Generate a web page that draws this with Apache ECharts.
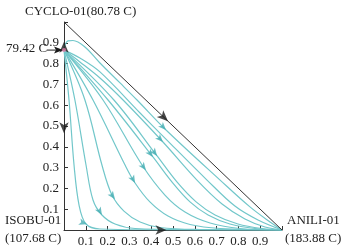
<!DOCTYPE html>
<html>
<head>
<meta charset="utf-8">
<script src="https://cdn.jsdelivr.net/npm/echarts@6/dist/echarts.min.js"></script>
<style>
html, body { margin: 0; padding: 0; background: #fff; }
#chart { width: 345px; height: 251px; }
</style>
</head>
<body>
<div id="chart"></div>
<script>
// residue curves, [x ANILI, y CYCLO]
var curve1 = [[0,0.865],[0.023,0.625],[0.046,0.3125],[0.069,0.12],[0.101,0.0288],[0.165,0.0048],[0.4,0.001],[1,0]];
var curve2 = [[0,0.865],[0.05,0.625],[0.101,0.3125],[0.133,0.144],[0.174,0.072],[0.234,0.0288],[0.326,0.0072],[0.6,0.001],[1,0]];
var curve3 = [[0,0.865],[0.096,0.625],[0.174,0.3125],[0.22,0.168],[0.275,0.091],[0.349,0.0385],[0.44,0.012],[0.624,0.0024],[1,0]];
var curve4 = [[0,0.865],[0.133,0.625],[0.28,0.3125],[0.326,0.226],[0.394,0.135],[0.477,0.067],[0.578,0.0264],[0.716,0.0072],[1,0]];
var curve5 = [[0,0.865],[0.179,0.625],[0.358,0.3125],[0.463,0.168],[0.555,0.0865],[0.67,0.0337],[0.807,0.0072],[1,0]];
var curve6 = [[0,0.865],[0.202,0.625],[0.408,0.351],[0.495,0.231],[0.578,0.135],[0.661,0.072],[0.761,0.0288],[0.876,0.0072],[1,0]];
var curve7 = [[0,0.865],[0.229,0.625],[0.427,0.356],[0.518,0.231],[0.606,0.135],[0.693,0.072],[0.798,0.0288],[0.908,0.0072],[1,0]];
var curve8 = [[0,0.865],[0.073,0.808],[0.165,0.731],[0.271,0.625],[0.454,0.423],[0.61,0.24],[0.725,0.125],[0.83,0.0529],[0.922,0.0144],[1,0]];
var curve9 = [[0,0.865],[0.073,0.827],[0.165,0.76],[0.349,0.5625],[0.463,0.442],[0.656,0.24],[0.784,0.115],[0.89,0.048],[1,0]];
var curve10 = [[0,0.865],[0.0046,0.889],[0.018,0.909],[0.041,0.911],[0.096,0.88],[0.165,0.803],[0.257,0.707],[0.335,0.625],[0.468,0.481],[0.716,0.24],[0.853,0.111],[0.945,0.0385],[1,0]];
var curves = [curve1, curve2, curve3, curve4, curve5, curve6, curve7, curve8, curve9, curve10];
// x where the little direction arrow sits on each curve (null = none)
var arrowAt = [0.105, 0.174, 0.234, 0.326, 0.376, 0.408, 0.427, 0.454, null, 0.468];

var edge = [[0, 1], [1, 0]];          // CYCLO - ANILI side
var azeo = [0, 0.865];                // 79.42 C azeotrope
// black arrows on the triangle edges: [x, y, direction dx, dy]
var edgeArrows = [[0, 0.905, 0, 1], [0, 0.465, 0, -1], [0.47, 0, 1, 0], [0.477, 0.523, 1, -1]];

var GL = 64, GR = 63, GT = 22, GB = 21;
var GW = 345 - GL - GR, GH = 251 - GT - GB;
var curveColor = '#72c7ca';
var font = '"Liberation Serif", "DejaVu Serif", serif';

function rot(dx, dy) {
  var ang = Math.atan2(dy * GH, dx * GW) * 180 / Math.PI;
  return ang - 90;
}

function pointAt(c, x) {
  for (var i = 0; i < c.length - 1; i++) {
    if (c[i][0] <= x && c[i + 1][0] >= x) {
      var dx = c[i + 1][0] - c[i][0], dy = c[i + 1][1] - c[i][1];
      var t = dx ? (x - c[i][0]) / dx : 0;
      return { p: [x, c[i][1] + t * dy], r: rot(dx, dy) };
    }
  }
  return { p: c[c.length - 1], r: 0 };
}

var series = [];
curves.forEach(function (c) {
  series.push({
    type: 'line',
    data: c,
    showSymbol: false,
    smooth: 0.35,
    lineStyle: { color: curveColor, width: 1.2 },
    silent: true,
    z: 2
  });
});

var curveArrows = [];
arrowAt.forEach(function (x, i) {
  if (x === null) return;
  var a = pointAt(curves[i], x);
  curveArrows.push({ value: a.p, symbolRotate: a.r });
});
series.push({
  type: 'scatter',
  data: curveArrows,
  symbol: 'arrow',
  symbolSize: [5, 8],
  itemStyle: { color: '#45aeb3' },
  silent: true,
  z: 4
});

series.push({
  type: 'line',
  data: edge,
  showSymbol: false,
  lineStyle: { color: '#333', width: 1 },
  silent: true,
  z: 3
});

series.push({
  type: 'scatter',
  data: edgeArrows.map(function (a) {
    return { value: [a[0], a[1]], symbolRotate: rot(a[2], a[3]) };
  }),
  symbol: 'arrow',
  symbolSize: [7, 11],
  itemStyle: { color: '#1a1a1a' },
  clip: false,
  silent: true,
  z: 5
});

series.push({
  type: 'scatter',
  data: [azeo],
  symbol: 'circle',
  symbolSize: 4,
  itemStyle: { color: '#e27aa8' },
  clip: false,
  silent: true,
  z: 6
});

var axisCommon = {
  type: 'value',
  min: 0,
  max: 1,
  interval: 0.1,
  axisLine: { show: true, lineStyle: { color: '#333', width: 1 } },
  axisTick: { show: true, inside: true, length: 4, lineStyle: { color: '#333' } },
  splitLine: { show: false },
  axisLabel: {
    color: '#222',
    fontSize: 13,
    fontFamily: font,
    margin: 5,
    formatter: function (v) { return (v > 0.001 && v < 0.999) ? v.toFixed(1) : ''; }
  }
};

var chart = echarts.init(document.getElementById('chart'));
var option = {
  animation: false,
  backgroundColor: '#fff',
  grid: { left: GL, right: GR, top: GT, bottom: GB },
  xAxis: Object.assign({}, axisCommon),
  yAxis: Object.assign({}, axisCommon),
  series: series
};
chart.setOption(option);

// labels and the azeotrope pointer
var az = chart.convertToPixel({ gridIndex: 0 }, azeo);
var txt = function (x, y, s) {
  return { type: 'text', left: x, top: y, silent: true,
    style: { text: s, fill: '#222', font: '13px ' + font } };
};
chart.setOption({
  graphic: [
    txt(25, 5, 'CYCLO-01(80.78 C)'),
    txt(6, az[1] - 8, '79.42 C'),
    txt(5, 214, 'ISOBU-01'),
    txt(5, 232, '(107.68 C)'),
    txt(287, 214, 'ANILI-01'),
    txt(285, 232, '(183.88 C)'),
    { type: 'line', silent: true,
      shape: { x1: az[0] - 17, y1: az[1], x2: az[0] - 4, y2: az[1] },
      style: { stroke: '#1a1a1a', lineWidth: 1 } },
    { type: 'polygon', silent: true,
      shape: { points: [[az[0] - 1, az[1]], [az[0] - 10, az[1] - 3.5], [az[0] - 8, az[1]], [az[0] - 10, az[1] + 3.5]] },
      style: { fill: '#1a1a1a' } }
  ]
});
</script>
</body>
</html>
